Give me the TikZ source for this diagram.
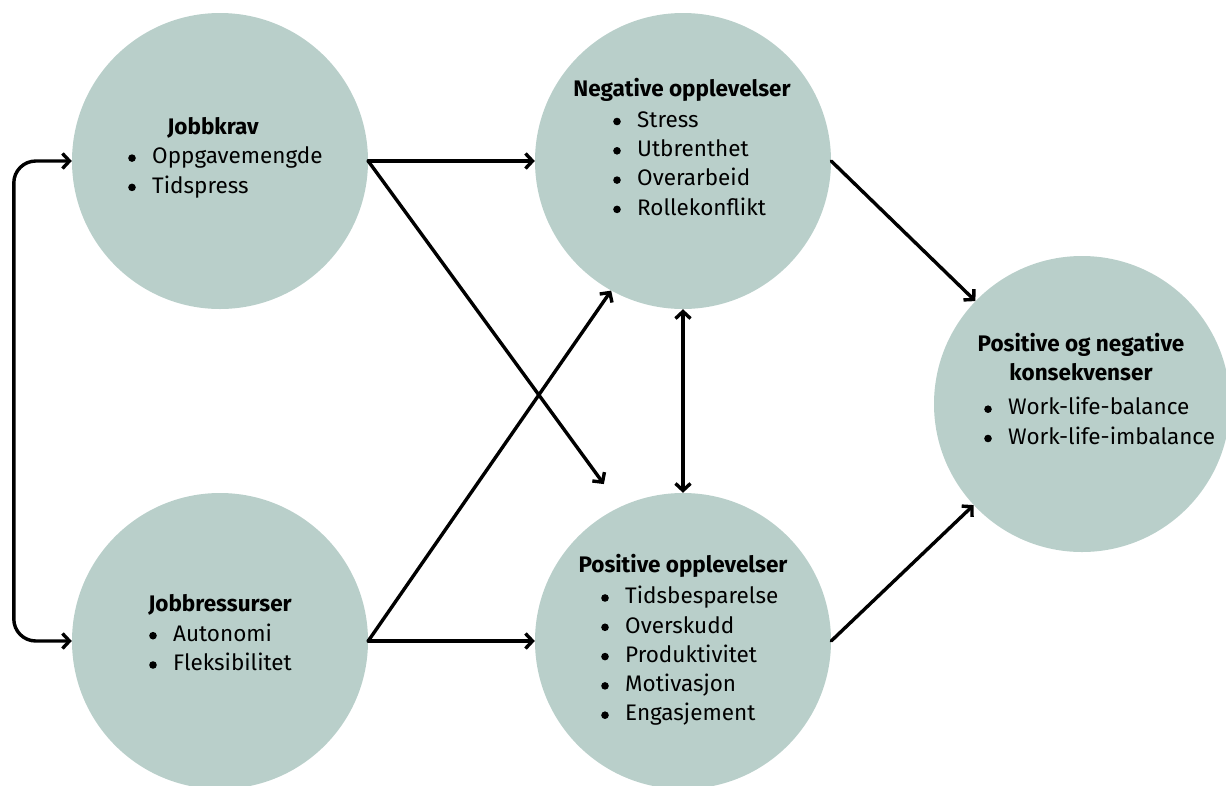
\documentclass[tikz,border=0pt]{standalone}
\usepackage{fontspec}
\setmainfont{Fira Sans}
\usetikzlibrary{arrows.meta}
\definecolor{sage}{RGB}{185,207,202}
\tikzset{
  x=1pt, y=-1pt,
  bubble/.style={circle, fill=sage, draw=none, minimum size=296pt, inner sep=0pt},
  heading/.style={inner sep=0pt, align=center, font=\fontsize{22.5}{29}\selectfont\bfseries},
  items/.style={inner sep=0pt, anchor=west, align=left, font=\fontsize{22.5}{29.3}\selectfont},
  link/.style={line width=3.4pt, line cap=round, line join=round,
    -{Straight Barb[length=7pt,width=15pt]}},
  twoway/.style={link, {Straight Barb[length=7pt,width=15pt]}-{Straight Barb[length=7pt,width=15pt]}}
}
% list entry: a round dot, then the text
\newcommand{\itm}[1]{\makebox[25pt][l]{\hspace{1pt}\raisebox{2pt}{\tikz\fill (0,0) circle[radius=3.8pt];}}#1}
\begin{document}
\begin{tikzpicture}
\useasboundingbox (0,0) rectangle (1226,785);
% circles
\node[bubble] (jk)  at (220,161) {};
\node[bubble] (jr)  at (220,641) {};
\node[bubble] (neg) at (683,161) {};
\node[bubble] (pos) at (683,641) {};
\node[bubble] (rt)  at (1082,404) {};
% texts
\node[heading] (jkT) at (213,128) {Jobbkrav};
\node[items] (jkL) at (127,172.5) {\itm{Oppgavemengde}\\\itm{Tidspress}};
\node[heading] (jrT) at (220,605) {Jobbressurser};
\node[items] (jrL) at (148,647.5) {\itm{Autonomi}\\\itm{Fleksibilitet}};
\node[heading] (negT) at (682,90) {Negative opplevelser};
\node[items] (negL) at (612,163.5) {\itm{Stress}\\\itm{Utbrenthet}\\\itm{Overarbeid}\\\itm{Rollekonflikt}};
\node[heading] (posT) at (683,566) {Positive opplevelser};
\node[items] (posL) at (600,656) {\itm{Tidsbesparelse}\\\itm{Overskudd}\\\itm{Produktivitet}\\\itm{Motivasjon}\\\itm{Engasjement}};
\node[heading] (rtT) at (1081,357.5) {Positive og negative\\konsekvenser};
\node[items] (rtL) at (983,421) {\itm{Work-life-balance}\\\itm{Work-life-imbalance}};
% connectors
\draw[twoway, rounded corners=22pt] (jk.west) -- ++(-58,0) |- (jr.west);
\draw[link] (jk.east) -- (neg.west);
\draw[link, shorten >=28pt] (jk.east) -- (pos.115.5);
\draw[link] (jr.east) -- (neg.241);
\draw[link] (jr.east) -- (pos.west);
\draw[twoway] (neg.south) -- (pos.north);
\draw[link] (neg.east) -- (rt.136);
\draw[link] (pos.east) -- (rt.223);
\end{tikzpicture}
\end{document}
